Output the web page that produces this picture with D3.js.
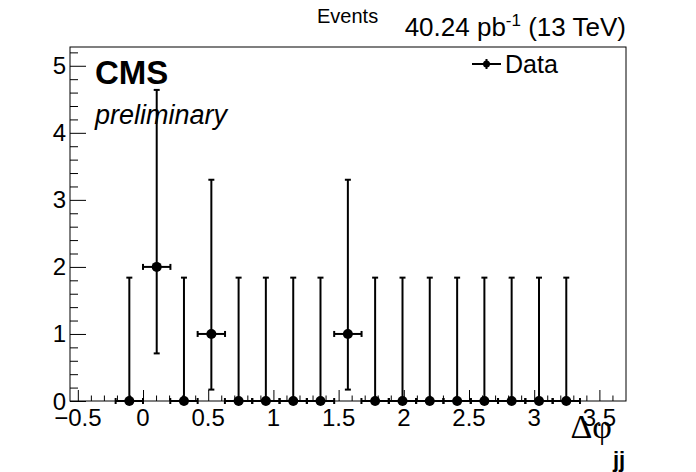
<!DOCTYPE html>
<html>
<head>
<meta charset="utf-8">
<script src="https://cdn.jsdelivr.net/npm/d3@7"></script>
<style>
  html, body { margin: 0; padding: 0; background: #fff; }
  svg { display: block; }
  text { font-family: "Liberation Sans", Arial, Helvetica, sans-serif; fill: #000; }
</style>
</head>
<body>
<svg id="chart" width="696" height="472"></svg>
<script>
// ---- data ----
const binCenters = [-0.105, 0.105, 0.314, 0.524, 0.733, 0.942, 1.152, 1.361, 1.571, 1.780, 1.990, 2.199, 2.409, 2.618, 2.827, 3.037, 3.246];
const counts     = [0, 2, 0, 1, 0, 0, 0, 0, 1, 0, 0, 0, 0, 0, 0, 0, 0];
const errLow     = [0, 1.29, 0, 0.83, 0, 0, 0, 0, 0.83, 0, 0, 0, 0, 0, 0, 0, 0];
const errHigh    = [1.84, 2.64, 1.84, 2.30, 1.84, 1.84, 1.84, 1.84, 2.30, 1.84, 1.84, 1.84, 1.84, 1.84, 1.84, 1.84, 1.84];
const binHalfWidth = 0.105;
const xTicks = [-0.5, 0, 0.5, 1, 1.5, 2, 2.5, 3, 3.5];
const xTickLabels = ["\u22120.5", "0", "0.5", "1", "1.5", "2", "2.5", "3", "3.5"];
const yTicks = [0, 1, 2, 3, 4, 5];
const xDomain = [-0.56, 3.704];
const yDomain = [0, 5.28];

// ---- layout ----
const frame = { left: 70, right: 626, top: 47, bottom: 401 };
const svg = d3.select("#chart");

const x = d3.scaleLinear().domain(xDomain).range([frame.left, frame.right]);
const y = d3.scaleLinear().domain(yDomain).range([frame.bottom, frame.top]);

// frame
svg.append("rect")
  .attr("x", frame.left).attr("y", frame.top)
  .attr("width", frame.right - frame.left).attr("height", frame.bottom - frame.top)
  .attr("fill", "none").attr("stroke", "#000").attr("stroke-width", 1);

// minor ticks
const xMinor = d3.range(-0.5, 3.70, 0.1).filter(v => Math.abs(v / 0.5 - Math.round(v / 0.5)) > 1e-6);
const yMinor = d3.range(0, 5.28, 0.2).filter(v => Math.abs(v - Math.round(v)) > 1e-6);

// x axis (ticks pointing inward/up)
const xAxisG = svg.append("g").attr("transform", `translate(0,${frame.bottom})`);
xAxisG.call(d3.axisBottom(x).tickValues(xTicks).tickSize(-11).tickFormat(""))
  .call(g => g.select(".domain").remove());
xAxisG.selectAll(".tick line").attr("stroke", "#000").attr("stroke-width", 1);
const xMinorG = svg.append("g").attr("transform", `translate(0,${frame.bottom})`);
xMinorG.call(d3.axisBottom(x).tickValues(xMinor).tickSize(-5.5).tickFormat(""))
  .call(g => g.select(".domain").remove());
xMinorG.selectAll(".tick line").attr("stroke", "#000").attr("stroke-width", 1);

svg.append("g").selectAll("text").data(xTicks).join("text")
  .attr("x", d => x(d)).attr("y", frame.bottom + 25)
  .attr("text-anchor", "middle").attr("font-size", 24)
  .text((d, i) => xTickLabels[i]);

// y axis
const yAxisG = svg.append("g").attr("transform", `translate(${frame.left},0)`);
yAxisG.call(d3.axisLeft(y).tickValues(yTicks).tickSize(-16).tickFormat(""))
  .call(g => g.select(".domain").remove());
yAxisG.selectAll(".tick line").attr("stroke", "#000").attr("stroke-width", 1);
const yMinorG = svg.append("g").attr("transform", `translate(${frame.left},0)`);
yMinorG.call(d3.axisLeft(y).tickValues(yMinor).tickSize(-8).tickFormat(""))
  .call(g => g.select(".domain").remove());
yMinorG.selectAll(".tick line").attr("stroke", "#000").attr("stroke-width", 1);

svg.append("g").selectAll("text").data(yTicks).join("text")
  .attr("x", frame.left - 4).attr("y", d => y(d) + 8.5)
  .attr("text-anchor", "end").attr("font-size", 24)
  .text(d => d);

// data points with error bars
const pts = binCenters.map((c, i) => ({ c, v: counts[i], lo: errLow[i], hi: errHigh[i] }));
const g = svg.append("g");
const cap = 3;
pts.forEach(p => {
  const cx = x(p.c), cy = y(p.v);
  const x0 = x(p.c - binHalfWidth), x1 = x(p.c + binHalfWidth);
  const yTop = y(p.v + p.hi), yBot = y(p.v - p.lo);
  g.append("line").attr("x1", x0).attr("x2", x1).attr("y1", cy).attr("y2", cy)
    .attr("stroke", "#000").attr("stroke-width", 2);
  g.append("line").attr("x1", x0).attr("x2", x0).attr("y1", cy - cap).attr("y2", cy + cap)
    .attr("stroke", "#000").attr("stroke-width", 2);
  g.append("line").attr("x1", x1).attr("x2", x1).attr("y1", cy - cap).attr("y2", cy + cap)
    .attr("stroke", "#000").attr("stroke-width", 2);
  g.append("line").attr("x1", cx).attr("x2", cx).attr("y1", yTop).attr("y2", yBot)
    .attr("stroke", "#000").attr("stroke-width", 2);
  g.append("line").attr("x1", cx - cap).attr("x2", cx + cap).attr("y1", yTop).attr("y2", yTop)
    .attr("stroke", "#000").attr("stroke-width", 2);
  if (p.lo > 0) {
    g.append("line").attr("x1", cx - cap).attr("x2", cx + cap).attr("y1", yBot).attr("y2", yBot)
      .attr("stroke", "#000").attr("stroke-width", 2);
  }
  g.append("circle").attr("cx", cx).attr("cy", cy).attr("r", 5).attr("fill", "#000");
});

// legend
const lg = svg.append("g");
lg.append("line").attr("x1", 472).attr("x2", 501).attr("y1", 64).attr("y2", 64).attr("stroke", "#000").attr("stroke-width", 2);
lg.append("line").attr("x1", 486.5).attr("x2", 486.5).attr("y1", 59).attr("y2", 69).attr("stroke", "#000").attr("stroke-width", 2);
lg.append("circle").attr("cx", 486.5).attr("cy", 64).attr("r", 3.5).attr("fill", "#000");
lg.append("text").attr("x", 505).attr("y", 72.5).attr("font-size", 25).text("Data");

// CMS labels
svg.append("text").attr("x", 95).attr("y", 84).attr("font-size", 33).attr("font-weight", "bold").text("CMS");
svg.append("text").attr("x", 95).attr("y", 124).attr("font-size", 27).attr("font-style", "italic").text("preliminary");

// top texts
svg.append("text").attr("x", 317).attr("y", 23).attr("font-size", 20).text("Events");
const lumi = svg.append("text").attr("x", 626).attr("y", 36).attr("font-size", 26).attr("text-anchor", "end");
lumi.append("tspan").text("40.24 pb");
lumi.append("tspan").attr("font-size", 17).attr("dy", -10).text("-1");
lumi.append("tspan").attr("dy", 10).text(" (13 TeV)");

// x-axis title
svg.append("text").attr("x", 612).attr("y", 438).attr("text-anchor", "end")
  .attr("font-size", 34).style("font-family", "'Liberation Serif', 'DejaVu Serif', serif").text("\u0394\u03C6");
svg.append("text").attr("x", 613).attr("y", 467).attr("font-size", 22).attr("font-weight", "bold").text("jj");
</script>
</body>
</html>
